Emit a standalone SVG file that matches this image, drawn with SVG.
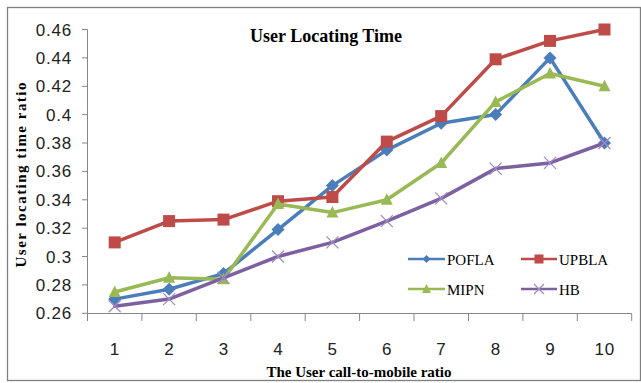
<svg xmlns="http://www.w3.org/2000/svg" xmlns:xlink="http://www.w3.org/1999/xlink" width="641" height="383" viewBox="0 0 641 383">
<style>
.frame{fill:#fff;stroke:#7f7f7f;stroke-width:1.3}
.axis{fill:none;stroke:#868686;stroke-width:1}
.tick{font-family:"Liberation Sans",Arial,sans-serif;font-size:17px;fill:#222;letter-spacing:0.8px}
.title{font-family:"Liberation Serif","Times New Roman",serif;font-weight:bold;font-size:18px;fill:#000}
.atitle{font-family:"Liberation Serif","Times New Roman",serif;font-weight:bold;font-size:15px;fill:#000}
.leg{font-family:"Liberation Serif","Times New Roman",serif;font-size:15px;fill:#000}
.s{fill:none;stroke-width:3.5;stroke-linejoin:round;stroke-linecap:round}
.ls{fill:none;stroke-width:2.5}
.pofla{stroke:#4a7ebb}
.upbla{stroke:#be4b48}
.mipn{stroke:#98b954}
.hb{stroke:#7d60a0}
</style>
<defs>
<polygon id="dia" points="0,-6.5 6.5,0 0,6.5 -6.5,0" fill="#4a7ebb"/>
<rect id="sq" x="-6" y="-6" width="12" height="12" fill="#be4b48"/>
<polygon id="tri" points="0,-6.5 6,5 -6,5" fill="#98b954"/>
<path id="xm" d="M-6,-6L6,6M-6,6L6,-6" stroke="#9d8cc4" stroke-width="1.3" fill="none"/>
<polygon id="dia2" points="0,-4 4,0 0,4 -4,0" fill="#4a7ebb"/>
<rect id="sq2" x="-4.5" y="-4.5" width="9" height="9" fill="#be4b48"/>
<polygon id="tri2" points="0,-5 4.5,4 -4.5,4" fill="#98b954"/>
<path id="xm2" d="M-5,-5L5,5M-5,5L5,-5" stroke="#9d8cc4" stroke-width="1.2" fill="none"/>
</defs>
<rect class="frame" x="7.5" y="7.5" width="633" height="373"/>
<g id="axes">
<path class="axis" d="M87.5,29.5V313.5H631.7"/>
<path class="axis" d="M82,29.5h5.5M82,57.9h5.5M82,86.3h5.5M82,114.6h5.5M82,143h5.5M82,171.4h5.5M82,199.8h5.5M82,228.2h5.5M82,256.5h5.5M82,284.9h5.5M82,313.3h5.5"/>
<path class="axis" d="M87.5,313.5v7.5M141.9,313.5v7.5M196.3,313.5v7.5M250.8,313.5v7.5M305.2,313.5v7.5M359.6,313.5v7.5M414,313.5v7.5M468.5,313.5v7.5M522.9,313.5v7.5M577.3,313.5v7.5M631.7,313.5v7.5"/>
<g text-anchor="end">
<text class="tick" x="72" y="35.5">0.46</text>
<text class="tick" x="72" y="63.9">0.44</text>
<text class="tick" x="72" y="92.3">0.42</text>
<text class="tick" x="72" y="120.6">0.4</text>
<text class="tick" x="72" y="149">0.38</text>
<text class="tick" x="72" y="177.4">0.36</text>
<text class="tick" x="72" y="205.8">0.34</text>
<text class="tick" x="72" y="234.2">0.32</text>
<text class="tick" x="72" y="262.5">0.3</text>
<text class="tick" x="72" y="290.9">0.28</text>
<text class="tick" x="72" y="319.3">0.26</text>
</g>
<g text-anchor="middle">
<text class="tick" x="115" y="355">1</text>
<text class="tick" x="169.4" y="355">2</text>
<text class="tick" x="223.8" y="355">3</text>
<text class="tick" x="278.3" y="355">4</text>
<text class="tick" x="332.7" y="355">5</text>
<text class="tick" x="387.1" y="355">6</text>
<text class="tick" x="441.5" y="355">7</text>
<text class="tick" x="495.9" y="355">8</text>
<text class="tick" x="550.3" y="355">9</text>
<text class="tick" x="604.8" y="355">10</text>
</g>
</g>
<text class="title" x="326" y="42" text-anchor="middle">User Locating Time</text>
<text class="atitle" x="359" y="376.5" text-anchor="middle">The User call-to-mobile ratio</text>
<text class="atitle" transform="translate(25.5,175) rotate(-90)" text-anchor="middle" textLength="185" lengthAdjust="spacing">User locating time ratio</text>
<g id="connectors">
<polyline class="s pofla" points="114.7,299.1 169.1,289.2 223.5,273.6 278,229.6 332.4,185.6 386.8,150.1 441.2,123.2 495.6,114.6 550,57.9 604.5,143"/>
<g id="pofla-markers">
<use xlink:href="#dia" x="114.7" y="299.1"/><use xlink:href="#dia" x="169.1" y="289.2"/><use xlink:href="#dia" x="223.5" y="273.6"/><use xlink:href="#dia" x="278" y="229.6"/><use xlink:href="#dia" x="332.4" y="185.6"/><use xlink:href="#dia" x="386.8" y="150.1"/><use xlink:href="#dia" x="441.2" y="123.2"/><use xlink:href="#dia" x="495.6" y="114.6"/><use xlink:href="#dia" x="550" y="57.9"/><use xlink:href="#dia" x="604.5" y="143"/>
</g>
<polyline class="s upbla" points="114.7,242.4 169.1,221.1 223.5,219.6 278,201.2 332.4,197 386.8,141.6 441.2,116.1 495.6,59.3 550,40.9 604.5,29.5"/>
<g id="upbla-markers">
<use xlink:href="#sq" x="114.7" y="242.4"/><use xlink:href="#sq" x="169.1" y="221.1"/><use xlink:href="#sq" x="223.5" y="219.6"/><use xlink:href="#sq" x="278" y="201.2"/><use xlink:href="#sq" x="332.4" y="197"/><use xlink:href="#sq" x="386.8" y="141.6"/><use xlink:href="#sq" x="441.2" y="116.1"/><use xlink:href="#sq" x="495.6" y="59.3"/><use xlink:href="#sq" x="550" y="40.9"/><use xlink:href="#sq" x="604.5" y="29.5"/>
</g>
<polyline class="s mipn" points="114.7,292 169.1,277.8 223.5,279.2 278,204 332.4,212.6 386.8,199.8 441.2,163 495.6,101.9 550,73.5 604.5,86.3"/>
<g id="mipn-markers">
<use xlink:href="#tri" x="114.7" y="292"/><use xlink:href="#tri" x="169.1" y="277.8"/><use xlink:href="#tri" x="223.5" y="279.2"/><use xlink:href="#tri" x="278" y="204"/><use xlink:href="#tri" x="332.4" y="212.6"/><use xlink:href="#tri" x="386.8" y="199.8"/><use xlink:href="#tri" x="441.2" y="163"/><use xlink:href="#tri" x="495.6" y="101.9"/><use xlink:href="#tri" x="550" y="73.5"/><use xlink:href="#tri" x="604.5" y="86.3"/>
</g>
<polyline class="s hb" points="114.7,306.2 169.1,299.1 223.5,277.8 278,256.5 332.4,242.4 386.8,221.1 441.2,198.4 495.6,168.6 550,162.9 604.5,143"/>
<g id="hb-markers">
<use xlink:href="#xm" x="114.7" y="306.2"/><use xlink:href="#xm" x="169.1" y="299.1"/><use xlink:href="#xm" x="223.5" y="277.8"/><use xlink:href="#xm" x="278" y="256.5"/><use xlink:href="#xm" x="332.4" y="242.4"/><use xlink:href="#xm" x="386.8" y="221.1"/><use xlink:href="#xm" x="441.2" y="198.4"/><use xlink:href="#xm" x="495.6" y="168.6"/><use xlink:href="#xm" x="550" y="162.9"/><use xlink:href="#xm" x="604.5" y="143"/>
</g>
</g>
<g id="legend">
<g id="leg-pofla"><path class="ls pofla" d="M408,259H445"/><use xlink:href="#dia2" x="426.5" y="259"/><text class="leg" x="447" y="265">POFLA</text></g>
<g id="leg-upbla"><path class="ls upbla" d="M521,259H557"/><use xlink:href="#sq2" x="539" y="259"/><text class="leg" x="559" y="265">UPBLA</text></g>
<g id="leg-mipn"><path class="ls mipn" d="M408,289H445"/><use xlink:href="#tri2" x="426.5" y="289"/><text class="leg" x="447" y="294.5">MIPN</text></g>
<g id="leg-hb"><path class="ls hb" d="M521,289H557"/><use xlink:href="#xm2" x="539" y="289"/><text class="leg" x="559" y="294.5">HB</text></g>
</g>
</svg>
